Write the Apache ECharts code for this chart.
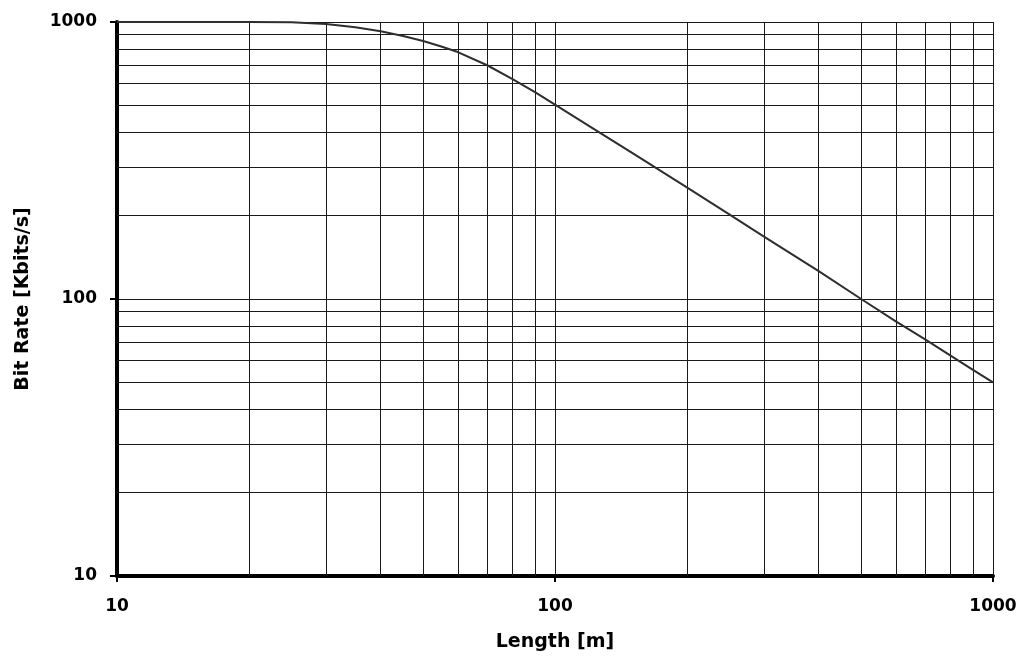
<!DOCTYPE html>
<html>
<head>
<meta charset="utf-8">
<script src="https://cdn.jsdelivr.net/npm/echarts@6/dist/echarts.min.js"></script>
<style>
html,body{margin:0;padding:0;background:#fff;}
#chart{width:1021px;height:660px;}
</style>
</head>
<body>
<div id="chart"></div>
<script>
// Data (Length [m] vs Bit Rate [Kbits/s])
const lengths  = [10, 15, 20, 25, 30, 35, 40, 45, 50, 55, 60, 70, 80, 90, 100, 120, 150, 200, 250, 300, 400, 500, 600, 700, 800, 900, 1000];
const bitRates = [1000, 1000, 1000, 997, 984, 958, 926, 890, 854, 816, 779, 698, 622, 558, 503, 420, 337, 253, 202, 168, 126, 100, 83, 71.5, 62.5, 55.5, 50];

// Minor grid values (both axes use the same log decades)
const xGridValues = [20, 30, 40, 50, 60, 70, 80, 90, 200, 300, 400, 500, 600, 700, 800, 900, 1000];
const yGridValues = [20, 30, 40, 50, 60, 70, 80, 90, 200, 300, 400, 500, 600, 700, 800, 900, 1000];

const xAxisName = 'Length [m]';
const yAxisName = 'Bit Rate [Kbits/s]';

const chart = echarts.init(document.getElementById('chart'), null, {renderer: 'canvas'});

const labelFont = {fontFamily: 'DejaVu Sans', fontWeight: 'bold', fontSize: 17, color: '#000'};
const nameFont = {fontFamily: 'DejaVu Sans', fontWeight: 'bold', fontSize: 19, color: '#000'};
const plainNumber = v => String(Math.round(v));

const gridMarks = xGridValues.map(v => ({xAxis: v})).concat(yGridValues.map(v => ({yAxis: v})));

chart.setOption({
  backgroundColor: '#fff',
  animation: false,
  grid: {left: 117, right: 28, top: 22, bottom: 84, containLabel: false},
  xAxis: {
    type: 'log', logBase: 10, min: 10, max: 1000,
    name: xAxisName, nameLocation: 'middle', nameGap: 57, nameTextStyle: nameFont,
    axisLine: {show: true, onZero: false, lineStyle: {color: '#000', width: 4}},
    axisTick: {show: true, length: 6, lineStyle: {color: '#000', width: 2}},
    axisLabel: Object.assign({margin: 22, formatter: plainNumber}, labelFont),
    splitLine: {show: true, lineStyle: {color: '#1a1a1a', width: 1}},
    minorTick: {show: false}, minorSplitLine: {show: false}
  },
  yAxis: {
    type: 'log', logBase: 10, min: 10, max: 1000,
    name: yAxisName, nameLocation: 'middle', nameGap: 84, nameRotate: 90, nameTextStyle: nameFont,
    axisLine: {show: true, onZero: false, lineStyle: {color: '#000', width: 4}},
    axisTick: {show: true, length: 7, lineStyle: {color: '#000', width: 2}},
    axisLabel: Object.assign({margin: 20, formatter: plainNumber}, labelFont),
    splitLine: {show: true, lineStyle: {color: '#1a1a1a', width: 1}},
    minorTick: {show: false}, minorSplitLine: {show: false}
  },
  series: [{
    type: 'line',
    data: lengths.map((x, i) => [x, bitRates[i]]),
    showSymbol: false,
    smooth: false,
    lineStyle: {color: '#2e2e2e', width: 2},
    z: 5,
    markLine: {
      silent: true,
      symbol: ['none', 'none'],
      label: {show: false},
      lineStyle: {color: '#1a1a1a', width: 1, type: 'solid'},
      emphasis: {disabled: true},
      data: gridMarks,
      z: 1
    }
  }]
});
</script>
</body>
</html>
